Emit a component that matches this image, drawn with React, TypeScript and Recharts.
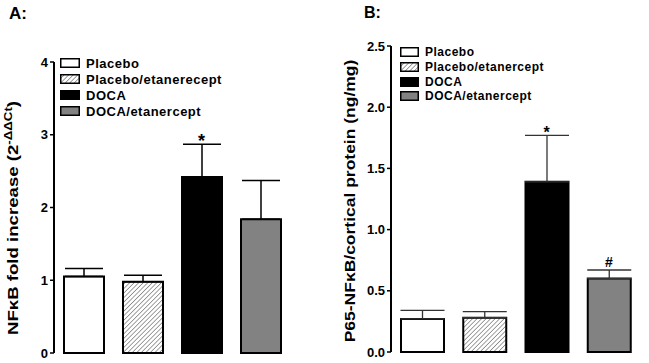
import { Bar, ComposedChart, Cell, ErrorBar, Label, Scatter, XAxis, YAxis } from "recharts";

const groups = ["Placebo", "Placebo/etanercept", "DOCA", "DOCA/etanercept"];
const legendA = ["Placebo", "Placebo/etanerecept", "DOCA", "DOCA/etanercept"];
const legendB = ["Placebo", "Placebo/etanercept", "DOCA", "DOCA/etanercept"];

// panel A: NFkB fold increase
const meanA = [1.05, 0.98, 2.42, 1.84];
const semA = [0.11, 0.09, 0.45, 0.53];
const sigA = ["", "", "*", ""];
const ticksA = [0, 1, 2, 3, 4];

// panel B: P65-NFkB / cortical protein
const meanB = [0.27, 0.28, 1.39, 0.6];
const semB = [0.07, 0.05, 0.38, 0.07];
const sigB = ["", "", "*", "#"];
const ticksB = [0, 0.5, 1, 1.5, 2, 2.5];

const FONT = "'Liberation Sans', Arial, Helvetica, sans-serif";

const build = (means: number[], sems: number[], sigs: string[]) =>
  groups.map((g, i) => ({
    group: g,
    mean: means[i],
    err: [0, sems[i]],
    mark: sigs[i] ? means[i] + sems[i] : null,
    sig: sigs[i],
  }));

const dataA = build(meanA, semA, sigA);
const dataB = build(meanB, semB, sigB);

const fills = (id: string) => ["#ffffff", `url(#${id})`, "#000000", "#828282"];

function Hatch({ id }: { id: string }) {
  return (
    <pattern id={id} patternUnits="userSpaceOnUse" width="3.2" height="3.2" patternTransform="rotate(45)">
      <rect width="3.2" height="3.2" fill="#fff" />
      <line x1="0" y1="0" x2="0" y2="3.2" stroke="#6e6e6e" strokeWidth="1.3" />
    </pattern>
  );
}

function Swatch({ i, w, h, id }: { i: number; w: number; h: number; id: string }) {
  return (
    <svg width={w} height={h} style={{ display: "block" }}>
      <defs>
        <Hatch id={id} />
      </defs>
      <rect x={0.75} y={0.75} width={w - 1.5} height={h - 1.5} fill={fills(id)[i]} stroke="#000" strokeWidth={1.5} />
    </svg>
  );
}

function LegendBox({ labels, left, top, row, size, boxW, prefix }: any) {
  return (
    <div style={{ position: "absolute", left, top, fontFamily: FONT, fontWeight: "bold", fontSize: size }}>
      {labels.map((l: string, i: number) => (
        <div key={l} style={{ height: row, display: "flex", alignItems: "center" }}>
          <Swatch i={i} w={boxW} h={10} id={`${prefix}${i}`} />
          <span style={{ marginLeft: 6, letterSpacing: 0.5, lineHeight: 1 }}>{l}</span>
        </div>
      ))}
    </div>
  );
}

const markShape = (size: number) => (props: any) => {
  const { cx, cy, payload } = props;
  if (!payload || !payload.sig) return <g />;
  const hash = payload.sig === "#";
  return (
    <text x={cx} y={cy + (hash ? -3 : 3)} textAnchor="middle" fontFamily={FONT} fontWeight="bold" fontSize={hash ? 14 : size} fill="#000">
      {payload.sig}
    </text>
  );
};

function Panel({ data, width, height, margin, axisW, domain, ticks, fmt, barSize, capW, errStroke, errW, hatchId, starSize, label }: any) {
  return (
    <ComposedChart width={width} height={height} data={data} margin={margin}>
      <defs>
        <Hatch id={hatchId} />
      </defs>
      <XAxis dataKey="group" tick={false} tickLine={false} height={0} axisLine={{ stroke: "#000", strokeWidth: 2 }} />
      <YAxis
        width={axisW}
        domain={domain}
        ticks={ticks}
        interval={0}
        tickFormatter={fmt}
        tickSize={4}
        tickMargin={2}
        axisLine={{ stroke: "#000", strokeWidth: 2 }}
        tickLine={{ stroke: "#000", strokeWidth: 1.5 }}
        tick={{ fill: "#000", fontSize: 13, fontWeight: "bold", fontFamily: FONT }}
      >
        <Label content={label} />
      </YAxis>
      <Bar dataKey="mean" barSize={barSize} stroke="#000" strokeWidth={2} isAnimationActive={false}>
        {data.map((_: any, i: number) => (
          <Cell key={i} fill={fills(hatchId)[i]} />
        ))}
        <ErrorBar dataKey="err" direction="y" width={capW} stroke={errStroke} strokeWidth={errW} isAnimationActive={false} />
      </Bar>
      <Scatter dataKey="mark" shape={markShape(starSize)} isAnimationActive={false} />
    </ComposedChart>
  );
}

const labelA = () => (
  <text transform="translate(18,218) rotate(-90) scale(1.33,1)" textAnchor="middle" fontFamily={FONT} fontWeight="bold" fontSize={14} fill="#000">
    NFκB fold increase (2
    <tspan fontSize={10} dy={-6}>-ΔΔCt</tspan>
    <tspan dy={6}>)</tspan>
  </text>
);

const labelB = () => (
  <text transform="translate(35,201) rotate(-90) scale(1.25,1)" textAnchor="middle" fontFamily={FONT} fontWeight="bold" fontSize={14} fill="#000">
    P65-NFκB/cortical protein (ng/mg)
  </text>
);

export default function App() {
  return (
    <div style={{ position: "absolute", left: 0, top: 0, width: 649, height: 363, background: "#fff", fontFamily: FONT }}>
      <div style={{ position: "absolute", left: 9, top: 4, fontSize: 17, fontWeight: "bold" }}>A:</div>
      <div style={{ position: "absolute", left: 364, top: 4, fontSize: 16, fontWeight: "bold" }}>B:</div>

      <div style={{ position: "absolute", left: 0, top: 0 }}>
        <Panel
          data={dataA}
          width={300}
          height={363}
          margin={{ top: 62, right: 10, bottom: 10, left: 0 }}
          axisW={54}
          domain={[0, 4]}
          ticks={ticksA}
          fmt={(v: number) => String(v)}
          barSize={40}
          capW={19}
          errStroke="#000"
          errW={1.5}
          hatchId="hatchA"
          starSize={18}
          label={labelA}
        />
      </div>
      <div style={{ position: "absolute", left: 320, top: 0 }}>
        <Panel
          data={dataB}
          width={329}
          height={363}
          margin={{ top: 46, right: 9, bottom: 11, left: 0 }}
          axisW={71}
          domain={[0, 2.5]}
          ticks={ticksB}
          fmt={(v: number) => v.toFixed(1)}
          barSize={43}
          capW={22}
          errStroke="#333"
          errW={1.3}
          hatchId="hatchB"
          starSize={16}
          label={labelB}
        />
      </div>

      <LegendBox labels={legendA} left={60} top={55} row={16} size={13} boxW={20} prefix="lgA" />
      <LegendBox labels={legendB} left={400} top={45} row={14.7} size={12} boxW={19} prefix="lgB" />
    </div>
  );
}
